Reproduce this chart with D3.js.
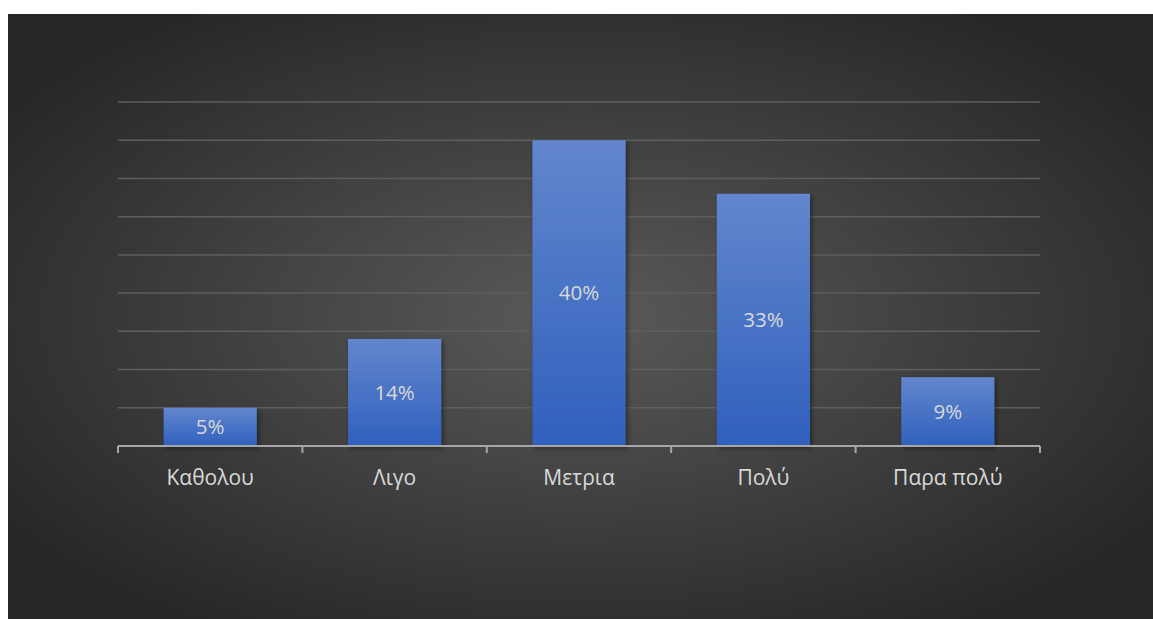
<!DOCTYPE html>
<html>
<head>
<meta charset="utf-8">
<script src="https://cdn.jsdelivr.net/npm/d3@7"></script>
<style>
  html, body { margin: 0; padding: 0; background: #ffffff; }
  svg { display: block; }
</style>
</head>
<body>
<svg id="chart" width="1153" height="619"></svg>
<script>
// Answer categories and their share of responses (%)
const categories = ["Καθολου", "Λιγο", "Μετρια", "Πολύ", "Παρα πολύ"];
const shares = [5, 14, 40, 33, 9];
const gridValues = [0, 5, 10, 15, 20, 25, 30, 35, 40, 45];

const W = 1153, H = 619;
const panel = { x: 8, y: 14, w: W - 8, h: H - 14 };
const plot = { left: 118, right: 1040, top: 102, bottom: 446 };

const svg = d3.select("#chart");
const defs = svg.append("defs");

// dark radial backdrop
const bg = defs.append("radialGradient").attr("id", "bgGrad")
  .attr("cx", "50%").attr("cy", "50%").attr("r", "62%");
bg.append("stop").attr("offset", "0%").attr("stop-color", "#5a5a5a");
bg.append("stop").attr("offset", "100%").attr("stop-color", "#262626");

// bar fill: lighter blue at top, deeper blue at base
const barGrad = defs.append("linearGradient").attr("id", "barGrad")
  .attr("x1", 0).attr("y1", 0).attr("x2", 0).attr("y2", 1);
barGrad.append("stop").attr("offset", "0%").attr("stop-color", "#6386cd");
barGrad.append("stop").attr("offset", "100%").attr("stop-color", "#2f60bd");

const shadow = defs.append("filter").attr("id", "barShadow")
  .attr("x", "-20%").attr("y", "-20%").attr("width", "150%").attr("height", "150%");
shadow.append("feDropShadow").attr("dx", 2).attr("dy", 2).attr("stdDeviation", 2.5)
  .attr("flood-color", "#000").attr("flood-opacity", 0.45);

svg.append("rect")
  .attr("x", panel.x).attr("y", panel.y)
  .attr("width", panel.w).attr("height", panel.h)
  .attr("fill", "url(#bgGrad)");

const x = d3.scaleBand()
  .domain(categories)
  .range([plot.left, plot.right])
  .paddingInner(0.495)
  .paddingOuter(0.2475);

const y = d3.scaleLinear()
  .domain([0, 45])
  .range([plot.bottom, plot.top]);

// horizontal gridlines
svg.append("g")
  .selectAll("line")
  .data(gridValues.filter(v => v > 0))
  .join("line")
  .attr("x1", plot.left).attr("x2", plot.right)
  .attr("y1", d => y(d)).attr("y2", d => y(d))
  .attr("stroke", "#5e5e5e")
  .attr("stroke-width", 1.5);

// bars
svg.append("g")
  .selectAll("rect")
  .data(categories)
  .join("rect")
  .attr("x", d => x(d))
  .attr("width", x.bandwidth())
  .attr("y", (d, i) => y(shares[i]))
  .attr("height", (d, i) => y(0) - y(shares[i]))
  .attr("fill", "url(#barGrad)")
  .attr("filter", "url(#barShadow)");

// value labels centred inside each bar
svg.append("g")
  .selectAll("text")
  .data(categories)
  .join("text")
  .attr("x", d => x(d) + x.bandwidth() / 2)
  .attr("y", (d, i) => (y(shares[i]) + y(0)) / 2)
  .attr("dy", "0.36em")
  .attr("text-anchor", "middle")
  .attr("font-family", "'Open Sans', 'Noto Sans', sans-serif")
  .attr("font-size", 20.5)
  .attr("fill", "#d9d9d9")
  .text((d, i) => shares[i] + "%");

// category axis with tick marks at band boundaries
const xAxis = svg.append("g").attr("transform", `translate(0,${plot.bottom})`);
xAxis.append("line")
  .attr("x1", plot.left).attr("x2", plot.right)
  .attr("y1", 0).attr("y2", 0)
  .attr("stroke", "#a6a6a6").attr("stroke-width", 2);

const boundaries = categories.map(c => x(c) - x.step() * x.paddingInner() / 2)
  .concat([plot.right]);
xAxis.selectAll("line.tick")
  .data(boundaries)
  .join("line")
  .attr("class", "tick")
  .attr("x1", d => d).attr("x2", d => d)
  .attr("y1", 0).attr("y2", 7)
  .attr("stroke", "#a6a6a6").attr("stroke-width", 2);

xAxis.selectAll("text")
  .data(categories)
  .join("text")
  .attr("x", d => x(d) + x.bandwidth() / 2)
  .attr("y", 31)
  .attr("dy", "0.36em")
  .attr("text-anchor", "middle")
  .attr("font-family", "'Open Sans', 'Noto Sans', sans-serif")
  .attr("font-size", 21)
  .attr("fill", "#d9d9d9")
  .text(d => d);
</script>
</body>
</html>
